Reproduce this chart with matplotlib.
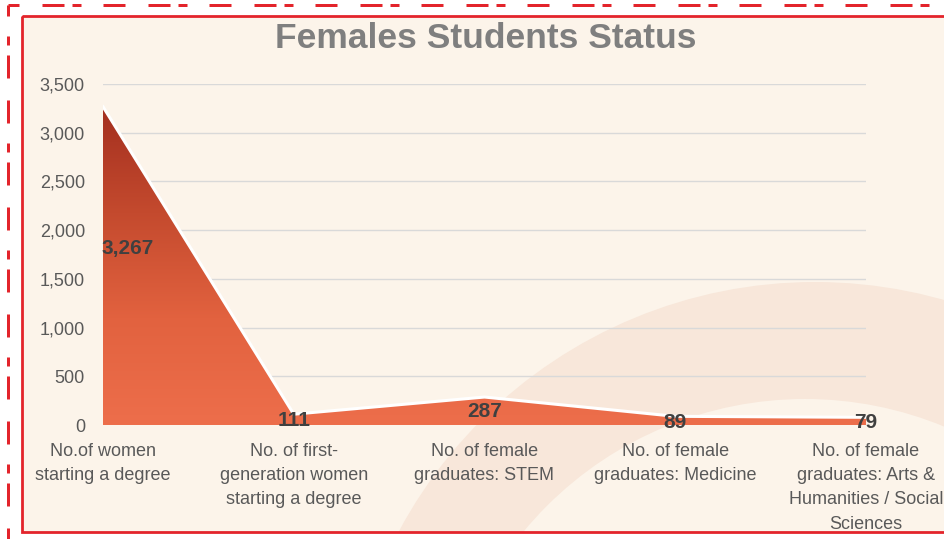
import matplotlib
matplotlib.use("Agg")
import matplotlib.pyplot as plt
import numpy as np
from matplotlib.patches import Rectangle, Circle, Polygon
from matplotlib.lines import Line2D
from matplotlib.colors import LinearSegmentedColormap

categories = [
    "No.of women\nstarting a degree",
    "No. of first-\ngeneration women\nstarting a degree",
    "No. of female\ngraduates: STEM",
    "No. of female\ngraduates: Medicine",
    "No. of female\ngraduates: Arts &\nHumanities / Social\nSciences",
]
values = [3267, 111, 287, 89, 79]
value_labels = ["3,267", "111", "287", "89", "79"]
yticks = [0, 500, 1000, 1500, 2000, 2500, 3000, 3500]
ytick_labels = ["0", "500", "1,000", "1,500", "2,000", "2,500", "3,000", "3,500"]
title = "Females Students Status"

plt.rcParams["lines.scale_dashes"] = False

W, H = 944, 539
fig = plt.figure(figsize=(W / 100, H / 100), dpi=100)
fig.patch.set_facecolor("white")

font = ["Liberation Sans", "DejaVu Sans"]
px = 72 / 100  # points per pixel

# background decorations (pixel coordinates)
bg = fig.add_axes([0, 0, 1, 1], zorder=0)
bg.set_xlim(0, W)
bg.set_ylim(H, 0)
bg.axis("off")
cream = "#FCF4EA"
ring = "#F8E7DA"
red = "#E3242B"
inner = Rectangle((22, 16), W + 10, 516, facecolor=cream, edgecolor="none")
bg.add_patch(inner)
c1 = Circle((815, 754), 472, facecolor=ring, edgecolor="none")
c2 = Circle((805, 764), 365, facecolor=cream, edgecolor="none")
bg.add_patch(c1)
bg.add_patch(c2)
c1.set_clip_path(inner)
c2.set_clip_path(inner)
# borders
bg.add_patch(Rectangle((22, 16), W + 10, 516, facecolor="none", edgecolor=red, lw=2))
hpat = [22 * px, 8 * px, 9 * px, 22 * px, 22 * px, 23 * px]
bg.add_line(Line2D([8, W + 5], [5, 5], color=red, lw=3 * px,
                   linestyle=(72 * px, hpat), solid_capstyle="butt", dash_capstyle="butt"))
vpat = [9 * px, 10 * px, 23 * px, 22 * px, 23 * px, 20 * px]
bg.add_line(Line2D([8, 8], [5, H + 5], color=red, lw=3 * px,
                   linestyle=(76 * px, vpat), solid_capstyle="butt", dash_capstyle="butt"))

# chart
ax = fig.add_axes([103 / W, 1 - 425 / H, (866 - 103) / W, (425 - 84) / H], zorder=1)
ax.patch.set_alpha(0)
x = np.arange(len(values))
ax.set_yticks(yticks)
ax.set_yticklabels(ytick_labels)
ax.set_xticks(x)
ax.set_xticklabels(categories, linespacing=1.55)
for s in ax.spines.values():
    s.set_visible(False)
ax.tick_params(axis="both", length=0, colors="#595959", labelsize=13)
ax.tick_params(axis="x", pad=13)
ax.tick_params(axis="y", pad=13)
for t in ax.get_xticklabels() + ax.get_yticklabels():
    t.set_family(font)
    t.set_color("#595959")
ax.grid(axis="y", color="#D9D9D9", lw=1)
ax.set_axisbelow(True)

# gradient area
poly_xy = np.column_stack([np.r_[x, x[::-1]], np.r_[values, np.zeros(len(values))]])
poly = Polygon(poly_xy, closed=True, facecolor="none", edgecolor="none")
ax.add_patch(poly)
cmap = LinearSegmentedColormap.from_list("g", ["#ED6E4B", "#E2623F", "#C44A2E", "#A32F1F"])
grad = np.linspace(0, 1, 256).reshape(-1, 1)
im = ax.imshow(grad, cmap=cmap, origin="lower", aspect="auto",
               extent=[0, len(values) - 1, 0, max(values)], zorder=2)
im.set_clip_path(poly)
ax.plot(x, values, color="white", lw=2.2, zorder=3, solid_joinstyle="miter")
ax.set_xlim(0, len(values) - 1)
ax.set_ylim(0, 3500)

for xi, v, lab in zip(x, values, value_labels):
    ax.text(xi + (0.13 if xi == 0 else 0), v * 0.56 - 20, lab, ha="center", va="center",
            fontsize=15, fontweight="bold", color="#404040", family=font, zorder=4)

fig.text(486 / W, 1 - 38 / H, title, ha="center", va="center", fontsize=25.5,
         fontweight="bold", color="#7F7F7F", family=font)

fig.savefig("out.png", dpi=100)
